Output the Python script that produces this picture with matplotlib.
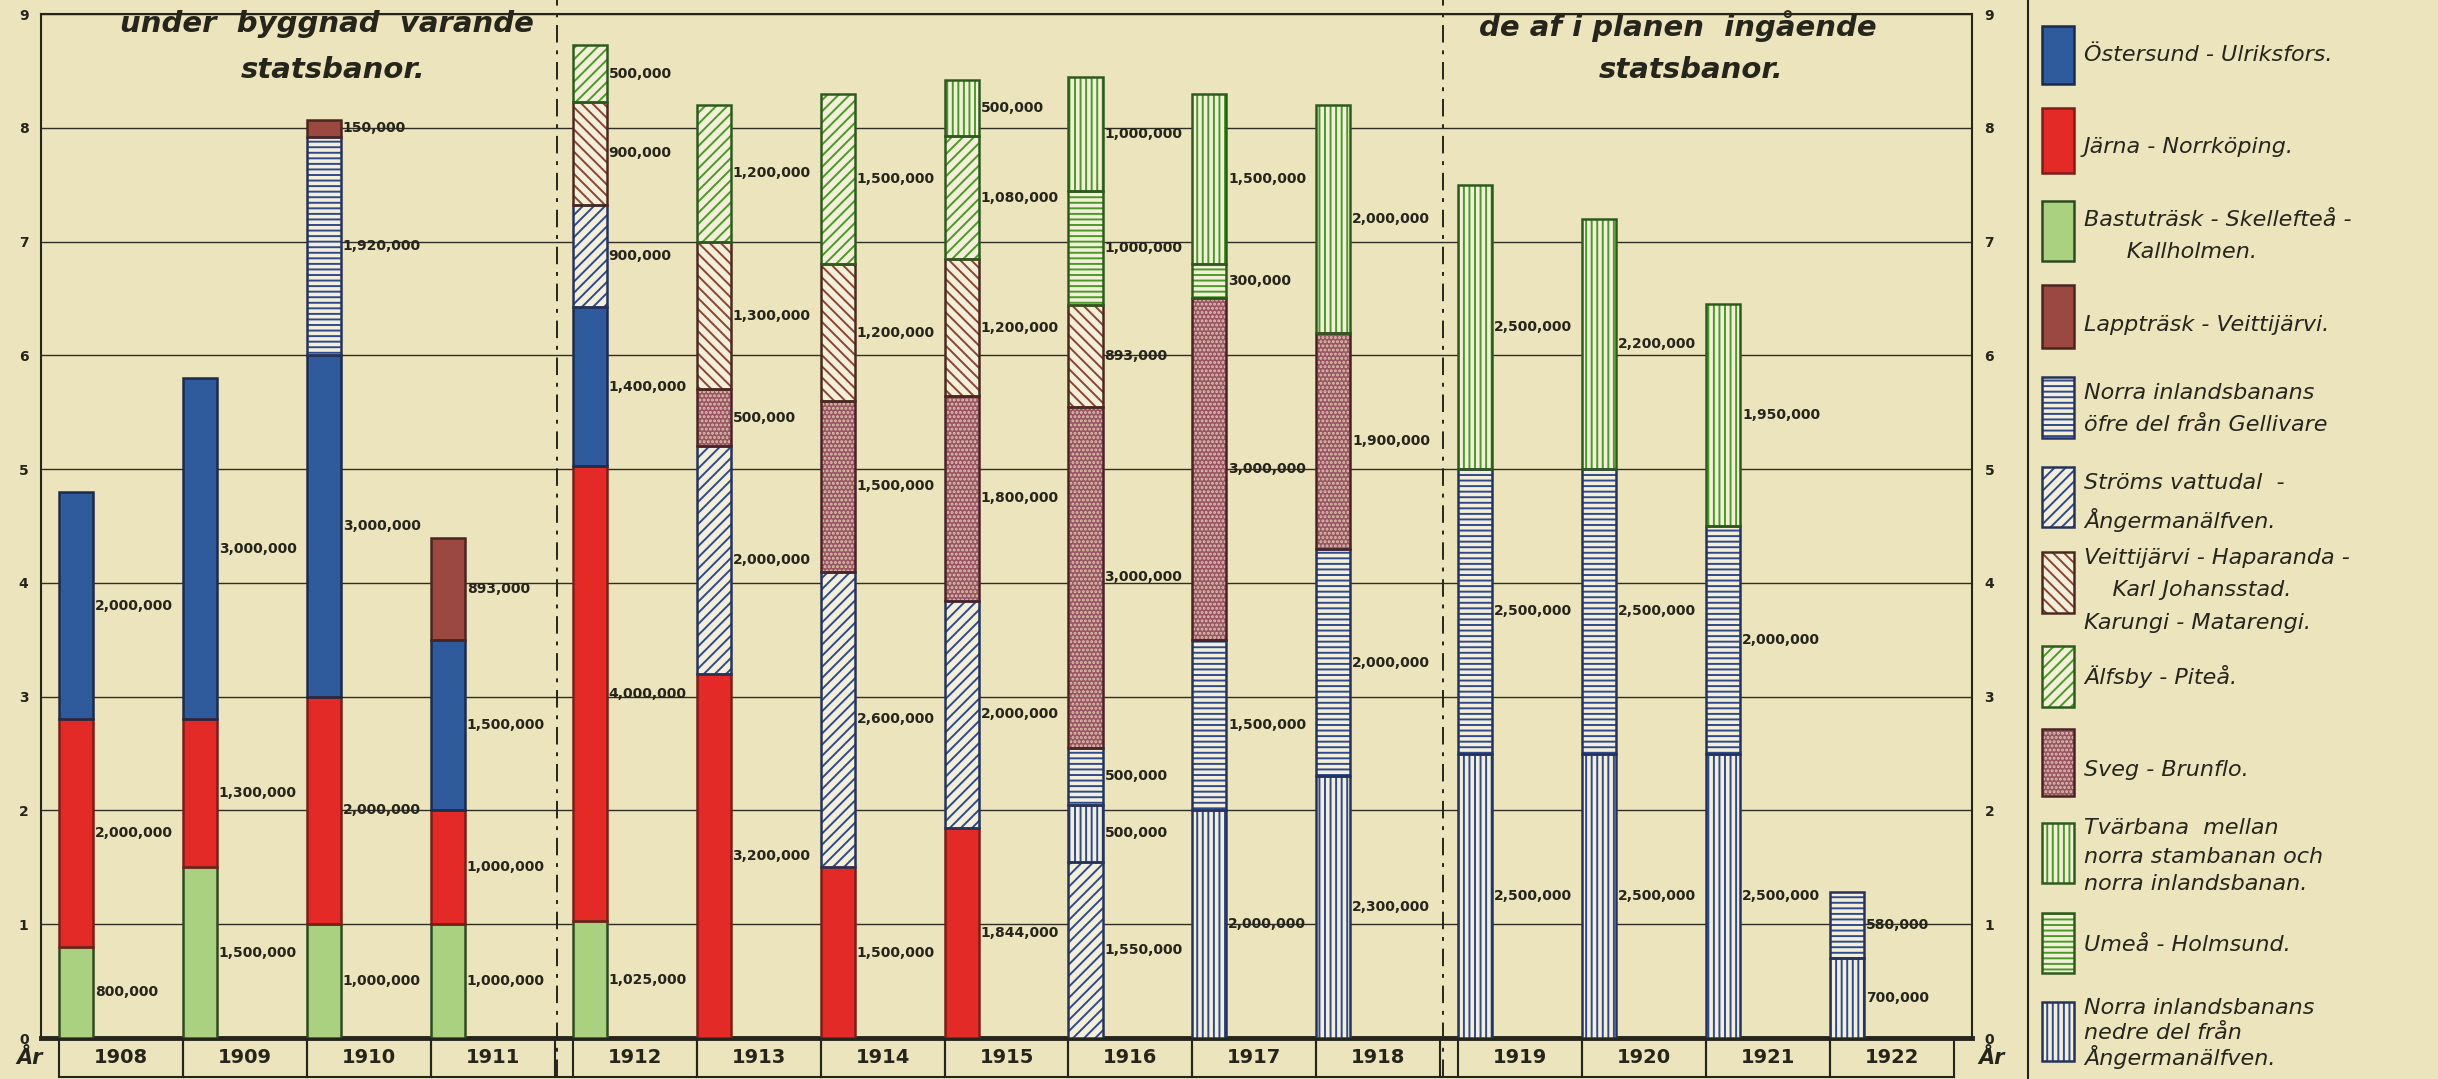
import matplotlib
matplotlib.use("Agg")
import matplotlib.pyplot as plt
from matplotlib.patches import Rectangle
from matplotlib.transforms import blended_transform_factory
import numpy as np

# ---------------- data (millions of kronor) ----------------
years = [1908, 1909, 1910, 1911, 1912, 1913, 1914, 1915, 1916, 1917, 1918, 1919, 1920, 1921, 1922]
group_of_year = [0, 0, 0, 0, 1, 1, 1, 1, 1, 1, 1, 2, 2, 2, 2]

bastutrask_skelleftea = [0.8, 1.5, 1.0, 1.0, 1.025, 0, 0, 0, 0, 0, 0, 0, 0, 0, 0]
jarna_norrkoping      = [2.0, 1.3, 2.0, 1.0, 4.0, 3.2, 1.5, 1.844, 0, 0, 0, 0, 0, 0, 0]
ostersund_ulriksfors  = [2.0, 3.0, 3.0, 1.5, 1.4, 0, 0, 0, 0, 0, 0, 0, 0, 0, 0]
stroms_vattudal       = [0, 0, 0, 0, 0.9, 2.0, 2.6, 2.0, 1.55, 0, 0, 0, 0, 0, 0]
norra_inland_nedre    = [0, 0, 0, 0, 0, 0, 0, 0, 0.5, 2.0, 2.3, 2.5, 2.5, 2.5, 0.7]
norra_inland_ofre     = [0, 0, 1.92, 0, 0, 0, 0, 0, 0.5, 1.5, 2.0, 2.5, 2.5, 2.0, 0.58]
lapptrask_veittijarvi = [0, 0, 0.15, 0.893, 0, 0, 0, 0, 0, 0, 0, 0, 0, 0, 0]
sveg_brunflo          = [0, 0, 0, 0, 0, 0.5, 1.5, 1.8, 3.0, 3.0, 1.9, 0, 0, 0, 0]
veittijarvi_haparanda = [0, 0, 0, 0, 0.9, 1.3, 1.2, 1.2, 0.893, 0, 0, 0, 0, 0, 0]
umea_holmsund         = [0, 0, 0, 0, 0, 0, 0, 0, 1.0, 0.3, 0, 0, 0, 0, 0]
alfsby_pitea          = [0, 0, 0, 0, 0.5, 1.2, 1.5, 1.08, 0, 0, 0, 0, 0, 0, 0]
tvarbana              = [0, 0, 0, 0, 0, 0, 0, 0.5, 1.0, 1.5, 2.0, 2.5, 2.2, 1.95, 0]

# stacking order (bottom -> top)
stack = [
    ("bastu", bastutrask_skelleftea),
    ("jarna", jarna_norrkoping),
    ("oster", ostersund_ulriksfors),
    ("stroms", stroms_vattudal),
    ("nedre", norra_inland_nedre),
    ("ofre", norra_inland_ofre),
    ("lapp", lapptrask_veittijarvi),
    ("sveg", sveg_brunflo),
    ("veitt", veittijarvi_haparanda),
    ("umea", umea_holmsund),
    ("alfsby", alfsby_pitea),
    ("tvar", tvarbana),
]

BLUE = "#2f4a8c"; GREEN = "#4a9a26"; BROWN = "#8c4430"
LIGHT = "#f3efda"
styles = {
    "oster":  dict(face="#2f5a9c", hatch=None, hc="#2f5a9c", edge="#1d2b4c"),
    "jarna":  dict(face="#e42a26", hatch=None, hc="#e42a26", edge="#7a1f18"),
    "bastu":  dict(face="#a9d17f", hatch=None, hc="#a9d17f", edge="#2f4a20"),
    "lapp":   dict(face="#9a4840", hatch=None, hc="#9a4840", edge="#4a2620"),
    "ofre":   dict(face=LIGHT, hatch="---", hc=BLUE, edge="#26335a"),
    "stroms": dict(face=LIGHT, hatch="///", hc=BLUE, edge="#26335a"),
    "veitt":  dict(face=LIGHT, hatch="\\\\\\", hc=BROWN, edge="#4a2a1e"),
    "alfsby": dict(face=LIGHT, hatch="///", hc=GREEN, edge="#2f5a1e"),
    "sveg":   dict(face="#9a5564", hatch="....", hc="#dcc6ae", edge="#4a2228"),
    "tvar":   dict(face=LIGHT, hatch="|||", hc=GREEN, edge="#2f5a1e"),
    "umea":   dict(face=LIGHT, hatch="---", hc=GREEN, edge="#2f5a1e"),
    "nedre":  dict(face=LIGHT, hatch="|||", hc=BLUE, edge="#26335a"),
}

legend_items = [
    ("oster",  ["Östersund - Ulriksfors."]),
    ("jarna",  ["Järna - Norrköping."]),
    ("bastu",  ["Bastuträsk - Skellefteå -", "      Kallholmen."]),
    ("lapp",   ["Lappträsk - Veittijärvi."]),
    ("ofre",   ["Norra inlandsbanans", "öfre del från Gellivare"]),
    ("stroms", ["Ströms vattudal  -", "Ångermanälfven."]),
    ("veitt",  ["Veittijärvi - Haparanda -", "    Karl Johansstad.", "Karungi - Matarengi."]),
    ("alfsby", ["Älfsby - Piteå."]),
    ("sveg",   ["Sveg - Brunflo."]),
    ("tvar",   ["Tvärbana  mellan", "norra stambanan och", "norra inlandsbanan."]),
    ("umea",   ["Umeå - Holmsund."]),
    ("nedre",  ["Norra inlandsbanans", "nedre del från", "Ångermanälfven."]),
]

# ---------------- figure ----------------
BG = "#ece4bd"
INK = "#25251c"
W, H = 2438, 1079
fig = plt.figure(figsize=(W / 100, H / 100), dpi=100, facecolor=BG)
plt.rcParams["hatch.linewidth"] = 1.4

ax_left, ax_right, ax_top, ax_bot = 41, 1972, 14, 1038
ax = fig.add_axes([ax_left / W, (H - ax_bot) / H, (ax_right - ax_left) / W, (ax_bot - ax_top) / H])
ax.set_facecolor(BG)

g = 0.145         # gap between groups (in slot units)
bw = 0.275        # bar width
n_groups = 3
x_left = np.array([g * (grp + 1) + i for i, grp in enumerate(group_of_year)])
ax.set_xlim(0, len(years) + (n_groups + 1) * g)
ax.set_ylim(0, 9)

# grid
ax.set_yticks(range(10))
ax.set_xticks([])
ax.yaxis.grid(True, color="#2e2e24", lw=1.0)
ax.set_axisbelow(True)
ax.tick_params(axis="y", length=0, left=True, right=True, labelleft=True, labelright=True,
               labelsize=10, labelcolor=INK, pad=9)
for lab in ax.get_yticklabels():
    lab.set_fontweight("bold")
for s in ["left", "right", "top"]:
    ax.spines[s].set_color(INK); ax.spines[s].set_linewidth(1.5)
ax.spines["bottom"].set_color(INK); ax.spines["bottom"].set_linewidth(3.5)

# stacked bars
bottom = np.zeros(len(years))
for key, vals in stack:
    v = np.array(vals, dtype=float)
    st = styles[key]
    mask = v > 0
    ax.bar(x_left[mask], v[mask], width=bw, bottom=bottom[mask], align="edge",
           facecolor=st["face"], edgecolor=st["hc"], hatch=st["hatch"], linewidth=0, zorder=3)
    ax.bar(x_left[mask], v[mask], width=bw, bottom=bottom[mask], align="edge",
           fill=False, edgecolor=st["edge"], linewidth=1.8, zorder=4)
    for xi, b, val in zip(x_left[mask], bottom[mask], v[mask]):
        ax.text(xi + bw + 0.015, b + val / 2, f"{int(round(val * 1e6)):,}", ha="left", va="center",
                fontsize=10, fontweight="bold", color=INK, zorder=5)
    bottom += v

# year row below the axis
tr = blended_transform_factory(ax.transData, ax.transAxes)
row_bot = -(1077 - ax_bot) / (ax_bot - ax_top)
for xi, yr in zip(x_left, years):
    ax.text(xi + 0.5, row_bot / 2, str(yr), transform=tr, ha="center", va="center",
            fontsize=14, fontweight="bold", color=INK, clip_on=False)
    for xe in (xi, xi + 1):
        ax.plot([xe, xe], [0, row_bot], transform=tr, color=INK, lw=1.5, clip_on=False)
ax.plot([x_left[0], x_left[-1] + 1], [row_bot, row_bot], transform=tr, color=INK, lw=1.5, clip_on=False)

# dash-dot separators between groups
for i in range(1, len(years)):
    if group_of_year[i] != group_of_year[i - 1]:
        xs = x_left[i - 1] + 1 + 0.02
        ax.plot([xs, xs], [row_bot, 1.02], transform=tr, color=INK, lw=1.4,
                linestyle=(0, (9, 4, 2, 4)), clip_on=False, zorder=2)

# ---------------- overlay for titles & legend ----------------
ov = fig.add_axes([0, 0, 1, 1], facecolor="none")
ov.set_xlim(0, W); ov.set_ylim(H, 0); ov.axis("off")

tkw = dict(fontsize=21, style="italic", fontweight="bold", color=INK, ha="center", va="center")
ov.text(327, 24, "under  byggnad  varande", **tkw)
ov.text(333, 70, "statsbanor.", **tkw)
ov.text(1678, 26, "de af i planen  ingående", **tkw)
ov.text(1691, 70, "statsbanor.", **tkw)

ykw = dict(fontsize=15, style="italic", fontweight="bold", color=INK, ha="center", va="center")
ov.text(30, 1058, "År", **ykw)
ov.text(1992, 1058, "År", **ykw)

ov.plot([2028, 2028], [0, H], color=INK, lw=1.5)

patch_boxes = [(26, 84), (108, 173), (201, 261), (285, 348), (377, 438), (467, 527),
               (552, 613), (646, 707), (729, 796), (823, 883), (913, 973), (1002, 1061)]
line_ys = [[55], [147], [220, 252], [325], [393, 425], [483, 520], [558, 590, 623],
           [677], [770], [828, 857, 884], [945], [1008, 1033, 1057]]
for (key, lines), (y0, y1), ys in zip(legend_items, patch_boxes, line_ys):
    st = styles[key]
    ov.add_patch(Rectangle((2042, y0), 32, y1 - y0, facecolor=st["face"], edgecolor=st["hc"],
                           hatch=st["hatch"], linewidth=0))
    ov.add_patch(Rectangle((2042, y0), 32, y1 - y0, fill=False, edgecolor=st["edge"], linewidth=1.8))
    for txt, yy in zip(lines, ys):
        ov.text(2084, yy, txt, fontsize=16, style="italic", color=INK, ha="left", va="center")

fig.savefig("out.png", dpi=100, facecolor=BG)
